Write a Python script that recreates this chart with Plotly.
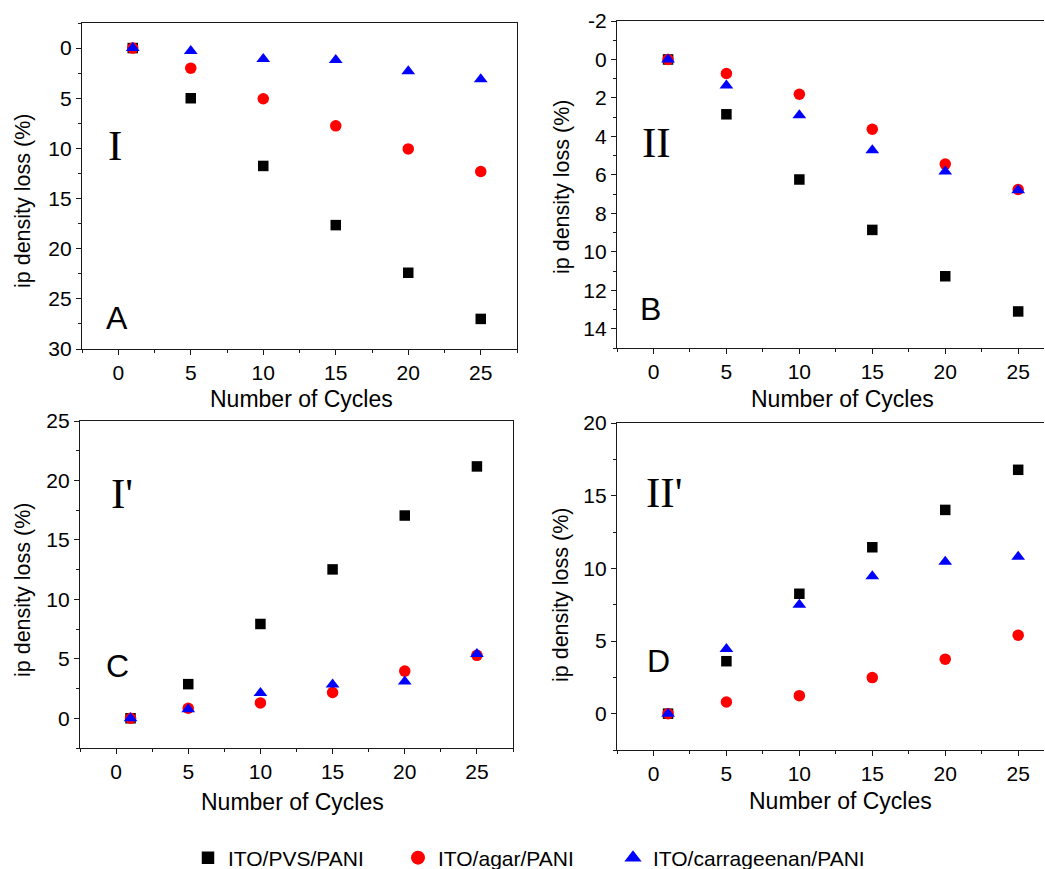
import plotly.graph_objects as go

W, H = 1045, 869

cycles = [1, 5, 10, 15, 20, 25]

# Panel A (I)
A_pvs = [0, 5.0, 11.75, 17.65, 22.4, 27.0]
A_agar = [0, 2.0, 5.05, 7.75, 10.05, 12.3]
A_carr = [0, 0.3, 1.1, 1.2, 2.3, 3.1]
# Panel B (II)
B_pvs = [0, 2.85, 6.24, 8.86, 11.27, 13.1]
B_agar = [0, 0.73, 1.81, 3.63, 5.44, 6.76]
B_carr = [0, 1.35, 2.9, 4.72, 5.82, 6.8]
# Panel C (I')
C_pvs = [0, 2.87, 7.93, 12.52, 17.05, 21.18]
C_agar = [0, 0.84, 1.29, 2.17, 3.97, 5.29]
C_carr = [0, 0.75, 2.12, 2.85, 3.1, 5.4]
# Panel D (II')
D_pvs = [0, 3.61, 8.25, 11.45, 14.02, 16.78]
D_agar = [0, 0.8, 1.24, 2.48, 3.75, 5.4]
D_carr = [0, 4.45, 7.5, 9.45, 10.45, 10.8]

series_names = ["ITO/PVS/PANI", "ITO/agar/PANI", "ITO/carrageenan/PANI"]
x_ticks = [0, 5, 10, 15, 20, 25]
B_yticks = [-2, 0, 2, 4, 6, 8, 10, 12, 14]
B_yticklabels = ["-2", "0", "2", "4", "6", "8", "10", "12", "14"]

panel_letters = ["A", "B", "C", "D"]
panel_roman = ["I", "II", "I'", "II'"]

styles = [
    dict(symbol="square", color="black", size=10.5),
    dict(symbol="circle", color="red", size=11.5),
    dict(symbol="triangle-up", color="blue", size=12),
]

SANS = "Liberation Sans, Arial, sans-serif"
SERIF = "Liberation Serif, Times New Roman, serif"

def px_x(p):
    return p / W

def px_y(p):
    return 1 - p / H

# pixel boxes: left, top, right, bottom
boxes = {
    1: (82, 23, 517, 349),
    2: (617, 21, 1044, 348),
    3: (80, 421, 513, 748),
    4: (617, 423, 1044, 750),
}
xranges = {1: [-2.5, 27.5], 2: [-2.5, 26.77], 3: [-2.5, 27.5], 4: [-2.5, 26.77]}
yranges = {1: [30, -2.5], 2: [15, -2], 3: [-2.5, 25], 4: [-2.5, 20]}

data = {
    1: (A_pvs, A_agar, A_carr),
    2: (B_pvs, B_agar, B_carr),
    3: (C_pvs, C_agar, C_carr),
    4: (D_pvs, D_agar, D_carr),
}

fig = go.Figure()

for k in range(1, 5):
    xa = "x" if k == 1 else f"x{k}"
    ya = "y" if k == 1 else f"y{k}"
    for vals, st, nm in zip(data[k], styles, series_names):
        fig.add_trace(go.Scatter(
            x=cycles, y=vals, mode="markers", name=nm, showlegend=False,
            xaxis=xa, yaxis=ya,
            marker=dict(symbol=st["symbol"], color=st["color"], size=st["size"],
                        line=dict(width=0)),
        ))

axis_common = dict(
    showgrid=False, zeroline=False, showline=True, linecolor="#1a1a1a", linewidth=1.3,
    ticks="outside", ticklen=5, tickwidth=1.2, tickcolor="#1a1a1a",
    tickfont=dict(family=SANS, size=21, color="black"), automargin=False,
)

layout = dict(
    width=W, height=H, margin=dict(l=0, r=0, t=0, b=0, autoexpand=False),
    paper_bgcolor="white", plot_bgcolor="white",
    font=dict(family=SANS, color="black"),
)

for k in range(1, 5):
    l, t, r, b = boxes[k]
    xname = "xaxis" if k == 1 else f"xaxis{k}"
    yname = "yaxis" if k == 1 else f"yaxis{k}"
    xanchor = "y" if k == 1 else f"y{k}"
    yanchor = "x" if k == 1 else f"x{k}"
    right_mirror = k in (1, 3)
    layout[xname] = dict(
        axis_common, domain=[px_x(l), px_x(r)], range=xranges[k], anchor=xanchor,
        tickmode="array", tickvals=x_ticks, mirror=True,
        minor=dict(dtick=2.5, tick0=0, ticks="outside", ticklen=3, tickcolor="#1a1a1a"),
    )
    ydict = dict(
        axis_common, domain=[px_y(b), px_y(t)], range=yranges[k], anchor=yanchor,
        mirror=right_mirror,
    )
    if k == 2:
        ydict.update(tickmode="array", tickvals=B_yticks, ticktext=B_yticklabels,
                     minor=dict(dtick=1, tick0=0, ticks="outside", ticklen=3, tickcolor="#1a1a1a"))
    else:
        ydict.update(dtick=5, tick0=0,
                     minor=dict(dtick=2.5, tick0=0, ticks="outside", ticklen=3, tickcolor="#1a1a1a"))
    layout[yname] = ydict

fig.update_layout(**layout)

annotations = []
def ann(text, x, y, size, family=SANS, angle=0):
    annotations.append(dict(
        text=text, x=px_x(x), y=px_y(y), xref="paper", yref="paper",
        xanchor="center", yanchor="middle", showarrow=False, textangle=angle,
        font=dict(family=family, size=size, color="black"),
    ))

# axis titles
ytitle_pos = [(23, 201), (562, 187), (23, 590), (561, 595)]
xtitle_pos = [(301, 399), (842, 399), (292, 802), (840, 801)]
for (x, y) in ytitle_pos:
    ann("ip density loss (%)", x, y, 21.5, angle=-90)
for (x, y) in xtitle_pos:
    ann("Number of Cycles", x, y, 23)

# panel labels
letter_pos = [(117, 318), (650, 309), (117, 666), (658, 661)]
roman_pos = [(115, 145), (656, 142), (122, 493), (664, 492)]
for txt, (x, y) in zip(panel_letters, letter_pos):
    ann(txt, x, y, 32)
for txt, (x, y) in zip(panel_roman, roman_pos):
    ann(txt, x, y, 43, family=SERIF)

fig.update_layout(annotations=annotations)

# legends (three separately positioned legends)
leg_symbol_x = [207, 417, 632]
leg_sizes = [12.5, 14, 15]
for i, (nm, st) in enumerate(zip(series_names, styles)):
    lname = "legend" if i == 0 else f"legend{i+1}"
    fig.add_trace(go.Scatter(
        x=[None], y=[None], mode="markers", name=nm, showlegend=True, legend=lname,
        marker=dict(symbol=st["symbol"], color=st["color"], size=leg_sizes[i], line=dict(width=0)),
    ))
    fig.update_layout(**{lname: dict(
        x=px_x(leg_symbol_x[i] - 19), y=px_y(858), xanchor="left", yanchor="middle",
        orientation="h", bgcolor="rgba(0,0,0,0)", borderwidth=0,
        font=dict(family=SANS, size=21, color="black"),
    )})

fig.write_html("out.html")
